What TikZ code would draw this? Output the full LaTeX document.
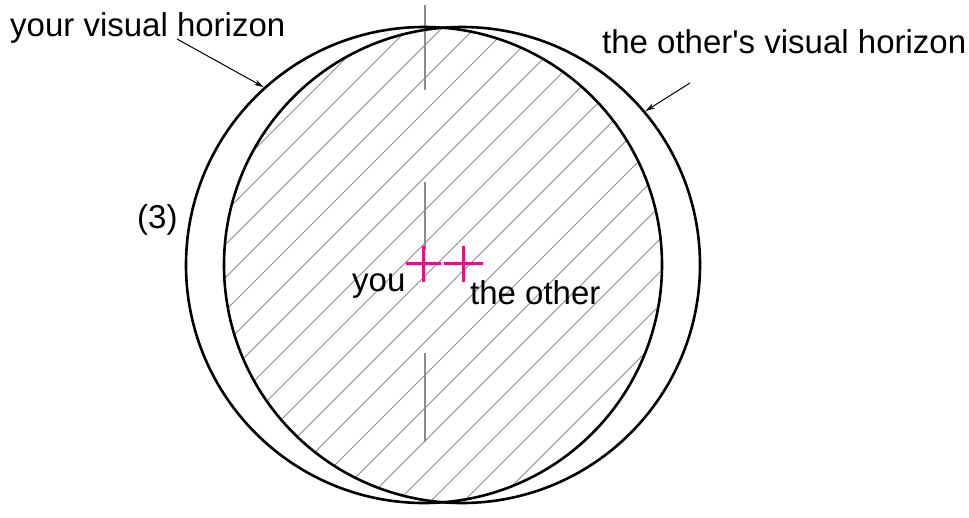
\documentclass[tikz,border=0pt]{standalone}
\usepackage{fontspec}
\setmainfont{Liberation Sans}[Ligatures=TeXOff]
\usetikzlibrary{arrows.meta}
\definecolor{crosspink}{RGB}{225,20,130}
\definecolor{hatchgray}{RGB}{140,140,140}
\tikzset{
  horizon/.style={circle, draw=black, line width=2.6pt, minimum size=476pt, inner sep=0pt},
  lbl/.style={inner sep=0pt, font=\fontsize{33}{40}\selectfont, text=black},
  pointer/.style={line width=1pt, -{Stealth[length=10pt,width=5.5pt]}},
  hatch/.style={hatchgray, line width=1pt},
  axis/.style={hatchgray, line width=1.2pt},
  crossmark/.style={crosspink, line width=3pt}
}
\begin{document}
\begin{tikzpicture}[x=1pt,y=-1pt]
\useasboundingbox (0,0) rectangle (969,517);
% hatching of the common region
\begin{scope}
  \clip (424,265) circle (238pt);
  \clip (462,265) circle (238pt);
  \foreach \k in {7,...,35} {
    \pgfmathsetmacro{\c}{33*\k+8}
    \draw[hatch] (\c,0) -- (\c-700,700);
  }
\end{scope}
% centre line
\draw[axis] (425,5) -- (425,90);
\draw[axis] (425,182) -- (425,250);
\draw[axis] (425,353) -- (425,442);
% circles
\node[horizon] (L) at (424,265) {};
\node[horizon] (R) at (462,265) {};
% crosses
\draw[crossmark] (406,263) -- (441,263);
\draw[crossmark] (423,246) -- (423,282);
\draw[crossmark] (444,263) -- (483,263);
\draw[crossmark] (463,246) -- (463,282);
% labels
\node[lbl, anchor=base west] (ly) at (10,36) {your visual horizon};
\node[lbl, anchor=base west] (lo) at (602,53) {the other's visual horizon};
\node[lbl, anchor=base west] (l3) at (137,228) {(3)};
\node[lbl, anchor=base west] (you) at (352,291) {you};
\node[lbl, anchor=base west] (oth) at (470,304) {the other};
% pointers
\coordinate (ps) at (177,39);
\coordinate (qs) at (690,83);
\draw[pointer] (ps) -- (L.132);
\draw[pointer] (qs) -- (R.40);
\end{tikzpicture}
\end{document}
